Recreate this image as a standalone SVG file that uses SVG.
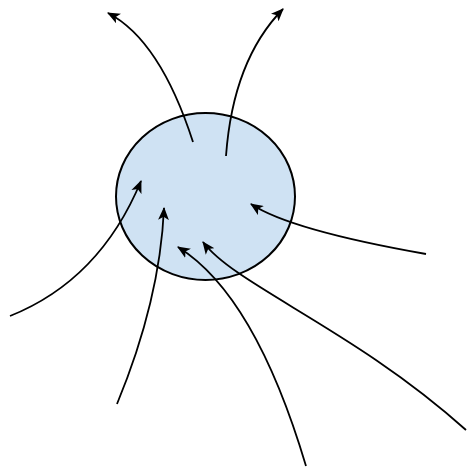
<svg xmlns="http://www.w3.org/2000/svg" width="469" height="467" viewBox="0 0 469 467">
<style>
.edge{fill:none;stroke:#000;stroke-width:1.8;marker-end:url(#ah)}
.node{fill:#cfe2f3;stroke:#000;stroke-width:2}
</style>
<defs>
<marker id="ah" viewBox="0 0 12 10" refX="11" refY="5" markerWidth="13" markerHeight="11" markerUnits="userSpaceOnUse" orient="auto">
<path d="M0,0 L12,5 L0,10 L3,5 Z" fill="#000"/>
</marker>
</defs>
<rect width="469" height="467" fill="#fff"/>
<g id="cell">
<ellipse class="node" cx="205.5" cy="196.5" rx="89.5" ry="83.5"/>
</g>
<g id="connectors">
<path class="edge" d="M193,142 Q160,40 108,13"/>
<path class="edge" d="M226,156 Q233,60 283,9"/>
<path class="edge" d="M10,316 Q100,280 141,181"/>
<path class="edge" d="M117,404 Q160,300 164,208"/>
<path class="edge" d="M306,466 Q255,295 178,247"/>
<path class="edge" d="M466,430 C355,330 235,285 203,242"/>
<path class="edge" d="M426,254 Q290,230 251,204"/>
</g>
</svg>
